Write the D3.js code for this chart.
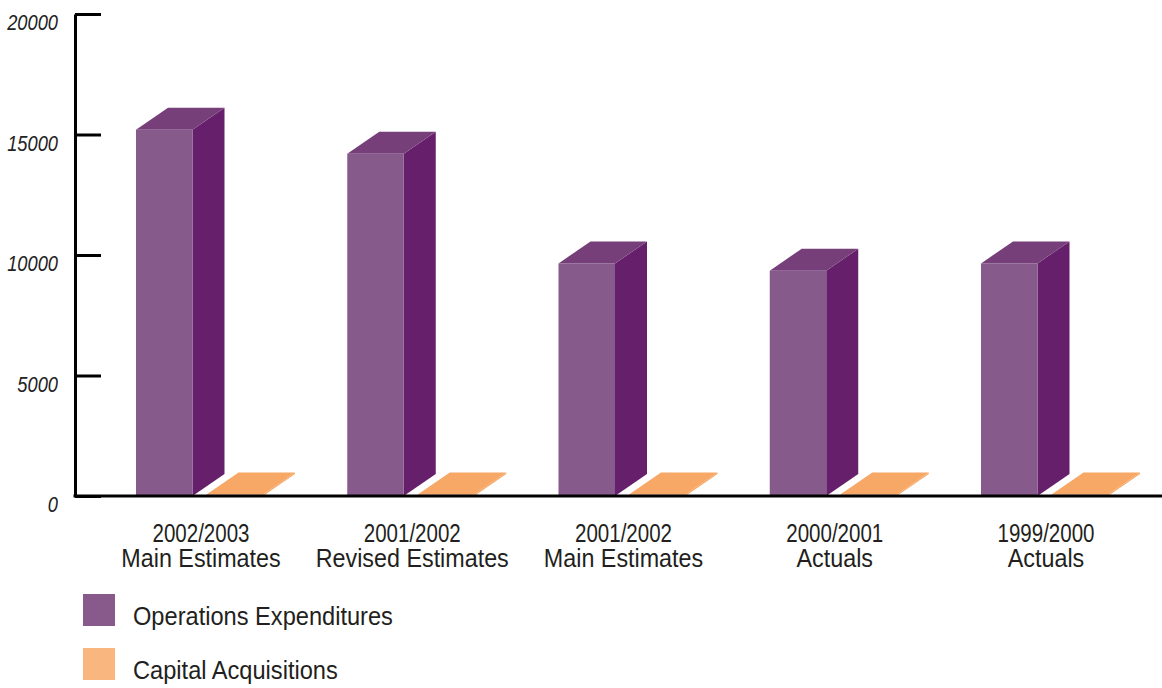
<!DOCTYPE html>
<html>
<head>
<meta charset="utf-8">
<script src="https://cdnjs.cloudflare.com/ajax/libs/d3/7.8.5/d3.min.js"></script>
<style>
  html, body { margin: 0; padding: 0; background: #ffffff; }
  svg { display: block; }
  text { font-family: "Liberation Sans", Arial, sans-serif; }
</style>
</head>
<body>
<svg id="chart" width="1162" height="688"></svg>
<script>
// Spending by fiscal period
const categories = [
  ["2002/2003", "Main Estimates"],
  ["2001/2002", "Revised Estimates"],
  ["2001/2002", "Main Estimates"],
  ["2000/2001", "Actuals"],
  ["1999/2000", "Actuals"]
];
const operationsExpenditures = [15200, 14200, 9650, 9350, 9650];
const capitalAcquisitions = [60, 60, 60, 60, 60];
const yTicks = [0, 5000, 10000, 15000, 20000];
const seriesNames = ["Operations Expenditures", "Capital Acquisitions"];

const svg = d3.select("#chart");
const W = 1162, H = 688;

const axisX = 75;
const y = d3.scaleLinear().domain([0, 20000]).range([496, 14]);

const x0 = d3.scaleBand()
  .domain(d3.range(categories.length))
  .range([115, 1171.25])
  .padding(0);

const x1 = d3.scaleBand()
  .domain(["ops", "cap"])
  .range([21, 148])
  .paddingInner(0.1986)
  .paddingOuter(0);

// 3D extrusion offset
const dx = 32, dy = -22;

const palette = {
  ops: { front: "#865b8c", side: "#661f6a", top: "#763f7a" },
  cap: { front: "#c99467", side: "#f6a866", top: "#f7a866" }
};
const legendColors = ["#875a8b", "#f9b67e"];

function drawBox(g, x, w, v, c) {
  const yb = y(0), yt = y(v);
  g.append("polygon")
    .attr("points", [[x + w, yb], [x + w + dx, yb + dy], [x + w + dx, yt + dy], [x + w, yt]].join(" "))
    .attr("fill", c.side);
  g.append("polygon")
    .attr("points", [[x, yt], [x + w, yt], [x + w + dx, yt + dy], [x + dx, yt + dy]].join(" "))
    .attr("fill", c.top);
  g.append("rect")
    .attr("x", x).attr("y", yt)
    .attr("width", w).attr("height", Math.max(0, yb - yt))
    .attr("fill", c.front);
}

const bars = svg.append("g");
categories.forEach((cat, i) => {
  const g = bars.append("g").attr("transform", `translate(${x0(i)},0)`);
  drawBox(g, x1("ops"), x1.bandwidth(), operationsExpenditures[i], palette.ops);
  drawBox(g, x1("cap"), x1.bandwidth(), capitalAcquisitions[i], palette.cap);
});

// Condensed text: horizontally compressed glyphs anchored at (x, y)
function condensedText(parent, x, y, str, opts) {
  const g = parent.append("g")
    .attr("transform", `translate(${x},${y}) scale(${opts.sx},1)`);
  return g.append("text")
    .attr("x", 0).attr("y", 0)
    .attr("text-anchor", opts.anchor || "start")
    .attr("fill", opts.fill || "#231f20")
    .style("font-size", opts.size + "px")
    .style("font-style", opts.italic ? "italic" : "normal")
    .text(str);
}

// Y axis with inward ticks
const yAxis = d3.axisLeft(y)
  .tickValues(yTicks)
  .tickFormat("")
  .tickSizeInner(-26)
  .tickSizeOuter(0);

const ya = svg.append("g")
  .attr("transform", `translate(${axisX},0)`)
  .call(yAxis);
ya.select(".domain").attr("stroke", "#000").attr("stroke-width", 3);
ya.selectAll(".tick line").attr("stroke", "#000").attr("stroke-width", 3);
ya.selectAll(".tick text").remove();

const tickLabels = svg.append("g");
yTicks.forEach(t => {
  condensedText(tickLabels, 58, y(t) + 16, d3.format("d")(t),
    { sx: 0.85, size: 21.5, italic: true, anchor: "end", fill: "#222" });
});

// Baseline
svg.append("line")
  .attr("x1", axisX - 1.5).attr("x2", W)
  .attr("y1", y(0)).attr("y2", y(0))
  .attr("stroke", "#000").attr("stroke-width", 3);

// Category labels
const labels = svg.append("g");
categories.forEach((cat, i) => {
  const cx = x0(i) + x1("ops") + (x1("cap") + x1.bandwidth() - x1("ops")) / 2 + 1.5;
  condensedText(labels, cx, 542, cat[0], { sx: 0.775, size: 26.5, anchor: "middle" });
  condensedText(labels, cx, 567, cat[1], { sx: 0.88, size: 26.5, anchor: "middle" });
});

// Legend
const legend = svg.append("g");
seriesNames.forEach((name, i) => {
  const ly = 594 + i * 54;
  legend.append("rect")
    .attr("x", 83).attr("y", ly)
    .attr("width", 32).attr("height", 32)
    .attr("fill", legendColors[i]);
  condensedText(legend, 133, ly + 31, name, { sx: 0.945, size: 25 });
});
</script>
</body>
</html>
